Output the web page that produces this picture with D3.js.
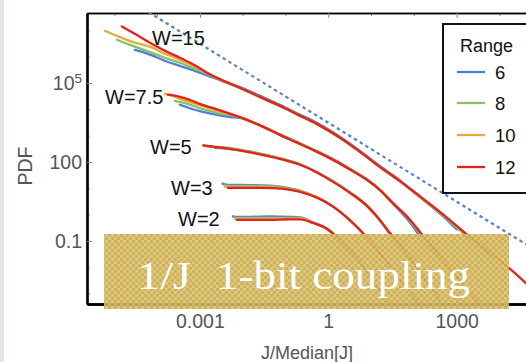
<!DOCTYPE html>
<html>
<head>
<meta charset="utf-8">
<script src="https://cdn.jsdelivr.net/npm/d3@7"></script>
<style>
  html, body { margin: 0; padding: 0; background: #ffffff; }
  svg { display: block; }
</style>
</head>
<body>
<svg id="chart" width="526" height="362"></svg>
<script>
// ---- Series: system size ("Range") and colour ----
const ranges = [6, 8, 10, 12];
const rangeColors = ["#4d7fd4", "#86c06a", "#e1ad3c", "#e3211f"];

// ---- Disorder strengths ----
const groupLabels = ["W=15", "W=7.5", "W=5", "W=3", "W=2"];

// ---- W=15 ----
const jW15 = [6.0e-6, 1.15e-5, 1.5e-5, 3.0e-5, 6.8e-5, 1.5e-4, 3.4e-4, 7.6e-4, 1.5e-3, 2.9e-3, 8.6e-3, 0.025, 0.074, 0.18, 0.54, 1.9, 6.4, 16, 47, 117, 405, 1010, 2030, 5970, 16600, 41400];
const pdfW15R6  = [null, null, null, 1.8e6, 1.2e6, 7.0e5, 4.5e5, 2.9e5, 1.9e5, 1.3e5, 7.0e4, 3.3e4, 1.5e4, 7.3e3, 3.1e3, 900, 220, 70, 20, 5.8, 1.1, 0.27, null, null, null, null];
const pdfW15R8  = [null, 4.4e6, 3.7e6, 2.4e6, 1.5e6, 9.1e5, 5.9e5, 3.5e5, 2.2e5, 1.3e5, 6.4e4, 2.9e4, 1.3e4, 6.5e3, 2.7e3, 800, 197, 62, 18, 5.6, 1.15, 0.32, 0.115, null, null, null];
const pdfW15R10 = [9.7e6, 6.2e6, 5.2e6, 3.4e6, 2.4e6, 1.3e6, 7.6e5, 4.1e5, 2.4e5, 1.4e5, 6.6e4, 3.0e4, 1.36e4, 6.7e3, 2.8e3, 825, 203, 65, 19.1, 6.1, 1.27, 0.36, 0.135, 0.030, null, null];
const pdfW15R12 = [null, null, 1.4e7, 7.4e6, 3.4e6, 1.7e6, 9.1e5, 4.7e5, 2.4e5, 1.4e5, 6.6e4, 3.0e4, 1.36e4, 6.7e3, 2.8e3, 825, 203, 65, 19.1, 6.1, 1.27, 0.37, 0.142, 0.035, 9.4e-3, 2.5e-3];

// ---- W=7.5 ----
const jW7 = [1.5e-4, 1.8e-4, 2.6e-4, 3.4e-4, 5.8e-4, 1.0e-3, 2.5e-3, 5.0e-3, 8.6e-3, 0.030, 0.074, 0.18, 0.49, 1.3, 3.2, 8.0, 16, 32, 81, 138, 405, 1190, 3480];
const pdfW7R6  = [null, null, null, 1.5e4, 1.1e4, 8.5e3, 6.2e3, 5.1e3, 4.7e3, 2.2e3, 1.12e3, 590, 280, 128, 55, 22, 8.8, 2.6, 0.5, 0.15, null, null, null];
const pdfW7R8  = [null, null, 2.1e4, 1.9e4, 1.5e4, 1.1e4, 7.4e3, 6.0e3, 4.9e3, 2.2e3, 1.1e3, 580, 275, 125, 54, 21.5, 8.7, 2.7, 0.58, 0.19, 0.022, null, null];
const pdfW7R10 = [3.9e4, 3.6e4, 3.0e4, 2.5e4, 1.9e4, 1.4e4, 8.8e3, 6.6e3, 5.05e3, 2.16e3, 1.07e3, 556, 264, 120, 52, 21, 8.7, 2.8, 0.63, 0.22, 0.025, 2.7e-3, null];
const pdfW7R12 = [null, 3.6e4, 3.3e4, 3.0e4, 2.3e4, 1.6e4, 1.0e4, 6.9e3, 5.05e3, 2.16e3, 1.07e3, 556, 264, 120, 52, 21, 8.7, 2.8, 0.63, 0.22, 0.027, 3.0e-3, 4.0e-4];

// ---- W=5 ----
const jW5 = [1.2e-3, 1.5e-3, 2.2e-3, 5.0e-3, 0.015, 0.074, 0.22, 1.3, 3.2, 8.0, 16, 27.5, 47, 138, 405];
const pdfW5R6  = [null, null, 345, 315, 245, 138, 82, 18.5, 7.1, 2.2, 0.6, 0.18, 0.06, null, null];
const pdfW5R8  = [null, 375, 375, 345, 245, 138, 82, 18.5, 7.1, 2.2, 0.62, 0.19, 0.065, null, null];
const pdfW5R10 = [420, 410, 375, 315, 232, 131, 78, 17.5, 6.7, 2.14, 0.63, 0.20, 0.070, 6.6e-3, null];
const pdfW5R12 = [430, 410, 375, 315, 232, 131, 78, 17.5, 6.7, 2.14, 0.63, 0.20, 0.070, 6.6e-3, 5.7e-4];

// ---- W=3 ----
const jW3 = [3.4e-3, 3.8e-3, 4.5e-3, 8.6e-3, 0.025, 0.051, 0.13, 0.22, 1.3, 5.5, 16, 47, 138];
const pdfW3R6  = [15, 14.1, 13.5, 13.5, 12.9, 12.3, 9.9, 8.0, 2.0, 0.26, null, null, null];
const pdfW3R8  = [null, 12.9, 12.3, 12.3, 12.3, 11.8, 9.5, 8.0, 2.0, 0.26, 0.035, null, null];
const pdfW3R10 = [null, 11.8, 11.3, 11.3, 11.3, 10.8, 9.1, 7.6, 2.0, 0.26, 0.035, 3.3e-3, null];
const pdfW3R12 = [null, null, 10.4, 10.4, 10.4, 10.2, 8.7, 7.3, 2.0, 0.26, 0.035, 3.3e-3, 4.0e-4];

// ---- W=2 ----
const jW2 = [5.9e-3, 6.6e-3, 7.3e-3, 0.015, 0.043, 0.13, 0.22, 0.44, 0.93, 2.4, 5.5, 12, 27.5];
const pdfW2R6  = [0.86, 0.82, 0.82, 0.82, 0.86, 0.82, 0.78, 0.51, 0.29, 0.065, null, null, null];
const pdfW2R8  = [null, 0.75, 0.75, 0.75, 0.75, 0.75, 0.74, 0.50, 0.29, 0.068, 0.015, null, null];
const pdfW2R10 = [null, 0.69, 0.69, 0.69, 0.69, 0.70, 0.70, 0.49, 0.29, 0.070, 0.016, 2.5e-3, null];
const pdfW2R12 = [null, null, 0.63, 0.63, 0.63, 0.66, 0.66, 0.48, 0.29, 0.070, 0.016, 2.5e-3, 4.0e-4];

// ---- 1/J guide line (end points) ----
const guideJ = [1e-5, 1e5];
const guidePDF = [3.1e8, 0.031];

// ---- Tick labels ----
const xMajorTicks = [1e-3, 1, 1e3];
const xMajorLabels = ["0.001", "1", "1000"];
const yMajorTicks = [0.1, 100, 1e5];
const yMajorLabels = [["0.1", ""], ["100", ""], ["10", "5"]];
const xMinorTicks = [1e-5, 1e-4, 1e-2, 0.1, 10, 100, 1e4];
const yMinorTicks = [1e-3, 1e-2, 1, 10, 1e3, 1e4, 1e6, 1e7];

const groups = [
  { label: groupLabels[0], j: jW15, series: [pdfW15R6, pdfW15R8, pdfW15R10, pdfW15R12], lx: 152, ly: 38 },
  { label: groupLabels[1], j: jW7,  series: [pdfW7R6,  pdfW7R8,  pdfW7R10,  pdfW7R12],  lx: 105, ly: 97 },
  { label: groupLabels[2], j: jW5,  series: [pdfW5R6,  pdfW5R8,  pdfW5R10,  pdfW5R12],  lx: 150, ly: 147 },
  { label: groupLabels[3], j: jW3,  series: [pdfW3R6,  pdfW3R8,  pdfW3R10,  pdfW3R12],  lx: 171, ly: 188 },
  { label: groupLabels[4], j: jW2,  series: [pdfW2R6,  pdfW2R8,  pdfW2R10,  pdfW2R12],  lx: 178, ly: 219 }
];

const svg = d3.select("#chart");
const sans = "'Liberation Sans', Arial, Helvetica, sans-serif";
const serif = "'Liberation Serif', 'DejaVu Serif', serif";

// frame extents (the right edge runs past the visible area)
const frameL = 87, frameR = 560, frameT = 13, frameB = 304;

const x = d3.scaleLog().domain([2.3e-6, 2.6e5]).range([frameL, frameR]);
const y = d3.scaleLog().domain([4.0e-4, 4.57e7]).range([frameB, frameT]);

// slide background strip on the far left
svg.append("rect").attr("x", 0).attr("y", 0).attr("width", 4).attr("height", 362).attr("fill", "#e5e4e1");

const defs = svg.append("defs");
defs.append("clipPath").attr("id", "plotClip")
  .append("rect").attr("x", frameL).attr("y", frameT).attr("width", frameR - frameL).attr("height", frameB - frameT);

// dotted gold texture for the caption banner
const pat = defs.append("pattern").attr("id", "goldDots")
  .attr("patternUnits", "userSpaceOnUse").attr("width", 6).attr("height", 6);
pat.append("rect").attr("width", 6).attr("height", 6).attr("fill", "#dec46f");
pat.append("circle").attr("cx", 1.5).attr("cy", 1.5).attr("r", 1.7).attr("fill", "#c8a953");
pat.append("circle").attr("cx", 4.5).attr("cy", 4.5).attr("r", 1.7).attr("fill", "#c8a953");

// ---- axes (inward ticks, Mathematica-style frame) ----
function styleAxis(g, width) {
  g.select(".domain").attr("stroke", "#000").attr("stroke-width", width);
  g.selectAll(".tick line").attr("stroke", "#8a8a8a").attr("stroke-width", 1);
}

// minor ticks
svg.append("g").attr("transform", `translate(${frameL},0)`)
  .call(d3.axisLeft(y).tickValues(yMinorTicks).tickSize(-3).tickSizeOuter(0).tickFormat(""))
  .call(g => styleAxis(g, 2.2));
svg.append("g").attr("transform", `translate(0,${frameT})`)
  .call(d3.axisTop(x).tickValues(xMinorTicks).tickSize(-3).tickSizeOuter(0).tickFormat(""))
  .call(g => styleAxis(g, 1.6));
svg.append("g").attr("transform", `translate(0,${frameB})`)
  .call(d3.axisBottom(x).tickValues(xMinorTicks).tickSize(-3).tickSizeOuter(0).tickFormat(""))
  .call(g => styleAxis(g, 2.4));

// major ticks with labels
const yAxisG = svg.append("g").attr("transform", `translate(${frameL},0)`)
  .call(d3.axisLeft(y).tickValues(yMajorTicks).tickSize(-5).tickSizeOuter(0).tickPadding(5).tickFormat(""))
  .call(g => styleAxis(g, 2.2));
yAxisG.selectAll(".tick text").each(function (d, i) {
  const t = d3.select(this)
    .attr("font-family", sans).attr("font-size", 19.5).attr("fill", "#555").attr("dy", "0.34em");
  const parts = yMajorLabels[i];
  t.append("tspan").text(parts[0]);
  if (parts[1]) t.append("tspan").attr("dy", "-0.5em").attr("font-size", 13.5).text(parts[1]);
});

svg.append("g").attr("transform", `translate(0,${frameT})`)
  .call(d3.axisTop(x).tickValues(xMajorTicks).tickSize(-5).tickSizeOuter(0).tickFormat(""))
  .call(g => styleAxis(g, 1.6));
svg.append("g").attr("transform", `translate(0,${frameB})`)
  .call(d3.axisBottom(x).tickValues(xMajorTicks).tickSize(-5).tickSizeOuter(0).tickPadding(10)
    .tickFormat((d, i) => xMajorLabels[i]))
  .call(g => styleAxis(g, 2.4))
  .call(g => g.selectAll(".tick text").attr("font-family", sans).attr("font-size", 19.5).attr("fill", "#555"));

// axis titles
svg.append("text").attr("transform", "translate(32,166) rotate(-90)")
  .attr("text-anchor", "middle").attr("font-family", sans).attr("font-size", 19.5).attr("fill", "#555")
  .text("PDF");
svg.append("text").attr("x", 261).attr("y", 359)
  .attr("font-family", sans).attr("font-size", 18).attr("fill", "#555")
  .text("J/Median[J]");

// ---- plot content ----
const plot = svg.append("g").attr("clip-path", "url(#plotClip)");

plot.append("line")
  .attr("x1", x(guideJ[0])).attr("y1", y(guidePDF[0]))
  .attr("x2", x(guideJ[1])).attr("y2", y(guidePDF[1]))
  .attr("stroke", "#5b82c4").attr("stroke-width", 2.2).attr("stroke-dasharray", "3.4,3.3");

const line = d3.line()
  .defined(d => d.p != null)
  .x(d => x(d.j))
  .y(d => y(d.p))
  .curve(d3.curveMonotoneX);

groups.forEach(g => {
  g.series.forEach((vals, k) => {
    const pts = g.j.map((j, i) => ({ j, p: vals[i] }));
    plot.append("path").datum(pts)
      .attr("d", line)
      .attr("fill", "none")
      .attr("stroke", rangeColors[k])
      .attr("stroke-width", 2.3)
      .attr("stroke-linejoin", "round")
      .attr("stroke-linecap", "round");
  });
  svg.append("text").attr("x", g.lx).attr("y", g.ly).attr("dy", "0.36em")
    .attr("font-family", sans).attr("font-size", 20).attr("fill", "#111")
    .text(g.label);
});

// ---- legend ----
const lg = svg.append("g");
lg.append("rect").attr("x", 443).attr("y", 24).attr("width", 120).attr("height", 169)
  .attr("fill", "#fff").attr("stroke", "#111").attr("stroke-width", 2);
lg.append("text").attr("x", 460).attr("y", 46).attr("dy", "0.36em")
  .attr("font-family", sans).attr("font-size", 18).attr("fill", "#111").text("Range");
const legendY = [72, 103, 135, 167];
ranges.forEach((r, k) => {
  lg.append("line").attr("x1", 457).attr("x2", 485).attr("y1", legendY[k]).attr("y2", legendY[k])
    .attr("stroke", rangeColors[k]).attr("stroke-width", 2.3);
  lg.append("text").attr("x", 495).attr("y", legendY[k]).attr("dy", "0.36em")
    .attr("font-family", sans).attr("font-size", 18.5).attr("fill", "#111").text(r);
});

// ---- caption banner ----
svg.append("rect").attr("x", 104).attr("y", 234).attr("width", 405).attr("height", 75)
  .attr("fill", "url(#goldDots)").attr("opacity", 0.93);
svg.append("text").attr("x", 137).attr("y", 289)
  .attr("font-family", serif).attr("font-size", 41).attr("fill", "#ffffff")
  .attr("textLength", 54).attr("lengthAdjust", "spacingAndGlyphs").text("1/J");
svg.append("text").attr("x", 216).attr("y", 289)
  .attr("font-family", serif).attr("font-size", 41).attr("fill", "#ffffff")
  .attr("textLength", 254).attr("lengthAdjust", "spacingAndGlyphs").text("1-bit coupling");
</script>
</body>
</html>
